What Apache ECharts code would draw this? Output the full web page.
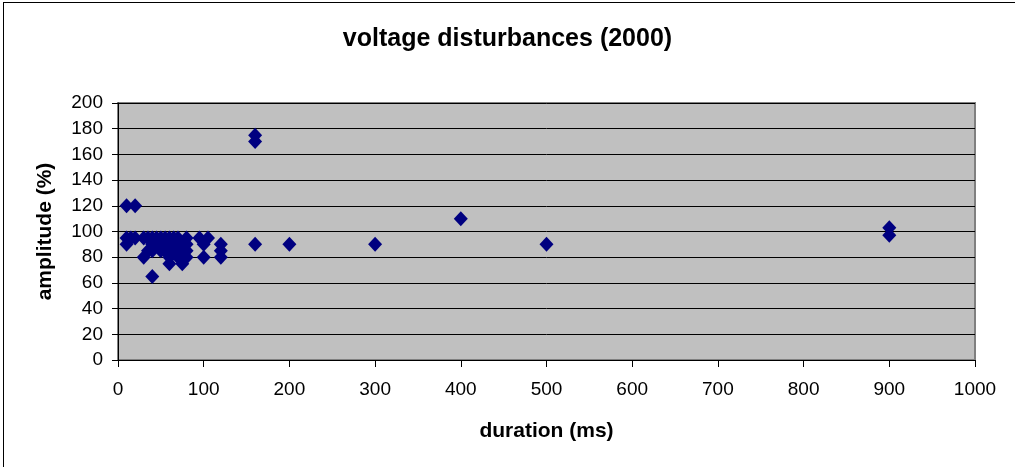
<!DOCTYPE html>
<html>
<head>
<meta charset="utf-8">
<script src="https://cdn.jsdelivr.net/npm/echarts@6/dist/echarts.min.js"></script>
<style>
  html, body { margin: 0; padding: 0; background: #fff; }
  #chart { width: 1015px; height: 467px; }
  .frame {
    position: absolute; left: 3px; top: 2px; width: 1030px; height: 480px;
    border: 1px solid #000; pointer-events: none;
  }
</style>
</head>
<body>
<div id="chart"></div>
<div class="frame"></div>
<script>
// duration (ms) / amplitude (%) pairs
const durations = [
  10, 20, 10, 10, 15, 20, 30, 35, 40, 45, 50, 55, 60, 65, 70, 80, 95, 105,
  100, 40, 45, 50, 55, 60, 65, 70, 75, 80,
  50, 60, 70, 80, 40, 55, 65, 75, 30, 35,
  60, 70, 60, 75, 80, 100, 120, 120, 120, 40,
  160, 160, 160, 200, 300, 400, 500, 900, 900,
]
const amplitudes = [
  120, 120, 95, 90, 95, 95, 95, 95, 95, 95, 95, 95, 95, 95, 95, 95, 95, 95,
  90, 90, 90, 90, 90, 90, 90, 90, 90, 90,
  85, 85, 85, 85, 85, 85, 85, 85, 80, 85,
  80, 80, 75, 75, 80, 80, 80, 85, 90, 65,
  90, 170, 175, 90, 90, 110, 90, 97, 103,
]
const xTicks = [0, 100, 200, 300, 400, 500, 600, 700, 800, 900, 1000]
const yTicks = [0, 20, 40, 60, 80, 100, 120, 140, 160, 180, 200]

const chart = echarts.init(document.getElementById('chart'))
const font = 'Arial, "Liberation Sans", sans-serif'

chart.setOption({
  animation: false,
  title: {
    text: 'voltage disturbances (2000)',
    left: 'center',
    top: 22,
    textStyle: { fontFamily: font, fontSize: 25, fontWeight: 'bold', color: '#000' },
  },
  grid: { left: 118, right: 40, top: 103, bottom: 107, backgroundColor: '#c0c0c0', show: true, borderColor: '#808080', borderWidth: 2 },
  xAxis: {
    type: 'value',
    min: xTicks[0],
    max: xTicks[xTicks.length - 1],
    interval: 100,
    name: 'duration (ms)',
    nameLocation: 'middle',
    nameGap: 61,
    nameTextStyle: { fontFamily: font, fontSize: 21, fontWeight: 'bold', color: '#000' },
    axisLine: { show: true, onZero: false, lineStyle: { color: '#000', width: 1 } },
    axisTick: { show: true, length: 7, lineStyle: { color: '#000' } },
    axisLabel: { fontFamily: font, fontSize: 19, color: '#000', margin: 20, formatter: (v) => String(v) },
    splitLine: { show: false },
  },
  yAxis: {
    type: 'value',
    min: yTicks[0],
    max: yTicks[yTicks.length - 1],
    interval: 20,
    name: 'amplitude (%)',
    nameLocation: 'middle',
    nameGap: 62,
    nameTextStyle: { fontFamily: font, fontSize: 21, fontWeight: 'bold', color: '#000' },
    axisLine: { show: true, lineStyle: { color: '#000', width: 1 } },
    axisTick: { show: true, length: 6, lineStyle: { color: '#000' } },
    axisLabel: { fontFamily: font, fontSize: 19, color: '#000', margin: 15 },
    splitLine: { show: true, lineStyle: { color: '#000', width: 1 } },
  },
  series: [
    {
      type: 'scatter',
      data: durations.map((d, i) => [d, amplitudes[i]]),
      symbol: 'diamond',
      symbolSize: [14, 15],
      itemStyle: { color: '#000080', opacity: 1 },
    },
  ],
})
</script>
</body>
</html>
